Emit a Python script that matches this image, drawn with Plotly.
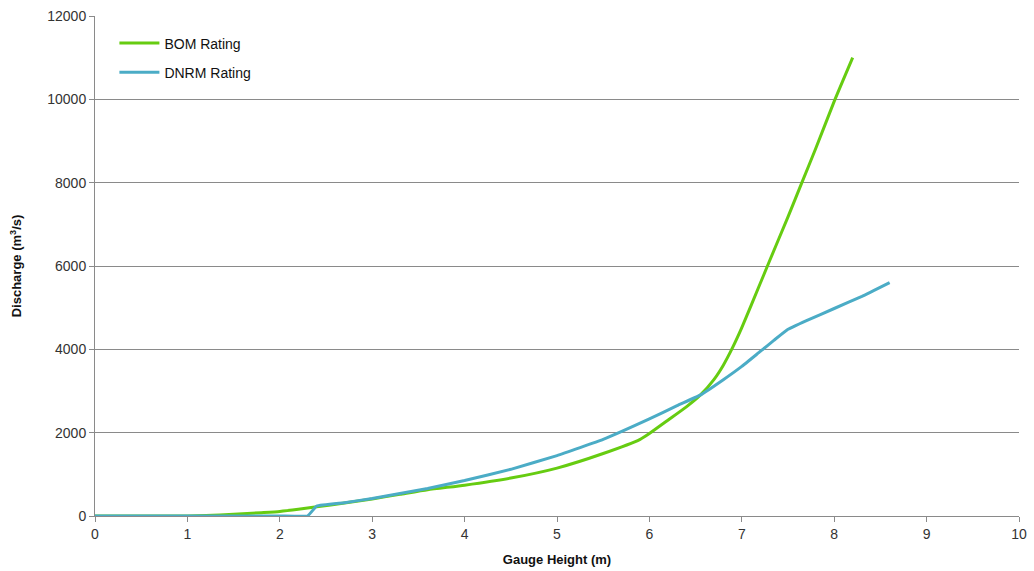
import plotly.graph_objects as go

# BOM rating curve (gauge height m, discharge m3/s)
bom_height = [0, 0.5, 1.0, 1.2, 1.5, 1.8, 2.0, 2.2, 2.4, 2.7, 3.0, 3.3, 3.6, 4.0, 4.5,
              5.0, 5.5, 5.9, 6.0, 6.2, 6.4, 6.55, 6.7, 6.8, 6.9, 7.0, 7.1, 7.3, 7.5,
              7.65, 7.8, 8.0, 8.2]
bom_discharge = [0, 0, 0, 10, 40, 80, 110, 160, 220, 310, 410, 520, 630, 740, 910,
                 1150, 1500, 1840, 1980, 2300, 2620, 2900, 3280, 3620, 4040, 4520, 5050,
                 6120, 7180, 8000, 8820, 9950, 11000]

# DNRM rating curve
dnrm_height = [0, 1.0, 2.0, 2.3, 2.4, 2.7, 3.0, 3.3, 3.6, 4.0, 4.5, 5.0, 5.5,
               6.0, 6.3, 6.55, 6.8, 7.0, 7.2, 7.35, 7.5, 7.7, 8.0, 8.3, 8.6]
dnrm_discharge = [0, 0, 0, 0, 240, 320, 420, 540, 660, 850, 1120, 1450, 1840,
                  2330, 2650, 2900, 3270, 3590, 3950, 4220, 4480, 4690, 4980, 5270, 5600]

x_ticks = [0, 1, 2, 3, 4, 5, 6, 7, 8, 9, 10]
y_ticks = [0, 2000, 4000, 6000, 8000, 10000, 12000]
y_tick_labels = ["0", "2000", "4000", "6000", "8000", "10000", "12000"]

fig = go.Figure()
fig.add_trace(go.Scatter(x=bom_height, y=bom_discharge, mode="lines", name="BOM Rating",
                         legendgroup="a",
                         line=dict(color="#66CC11", width=3, shape="spline", smoothing=0.5)))
fig.add_trace(go.Scatter(x=dnrm_height, y=dnrm_discharge, mode="lines", name="DNRM Rating",
                         legendgroup="b",
                         line=dict(color="#4BACC6", width=3, shape="spline", smoothing=0.3)))

fig.update_layout(
    width=1034, height=571,
    margin=dict(l=95, r=15, t=16, b=55),
    paper_bgcolor="white", plot_bgcolor="white",
    font=dict(family="Liberation Sans, Arial, sans-serif", size=14, color="#222"),
    legend=dict(x=0.021, y=0.977, xanchor="left", yanchor="top",
                bgcolor="rgba(0,0,0,0)", font=dict(size=14, color="#111"),
                tracegroupgap=8, itemwidth=40),
    xaxis=dict(range=[0, 10], tickvals=x_ticks, showgrid=False, zeroline=False,
               showline=True, linecolor="#8a8a8a", linewidth=1, automargin=False,
               ticks="outside", ticklen=5, tickcolor="#8a8a8a",
               tickfont=dict(size=14, color="#333"),
               title=dict(text="<b>Gauge Height (m)</b>", font=dict(size=13, color="#111"),
                          standoff=14)),
    yaxis=dict(range=[0, 12000], tickvals=y_ticks, ticktext=y_tick_labels,
               showgrid=True, gridcolor="#8a8a8a", automargin=False,
               gridwidth=1, zeroline=False, showline=True, linecolor="#8a8a8a", linewidth=1,
               ticks="outside", ticklen=5, tickcolor="#8a8a8a",
               tickfont=dict(size=14, color="#333"),
               title=dict(text="<b>Discharge (m<sup>3</sup>/s)</b>",
                          font=dict(size=13, color="#111"), standoff=22)),
)

fig.write_html("out.html")
